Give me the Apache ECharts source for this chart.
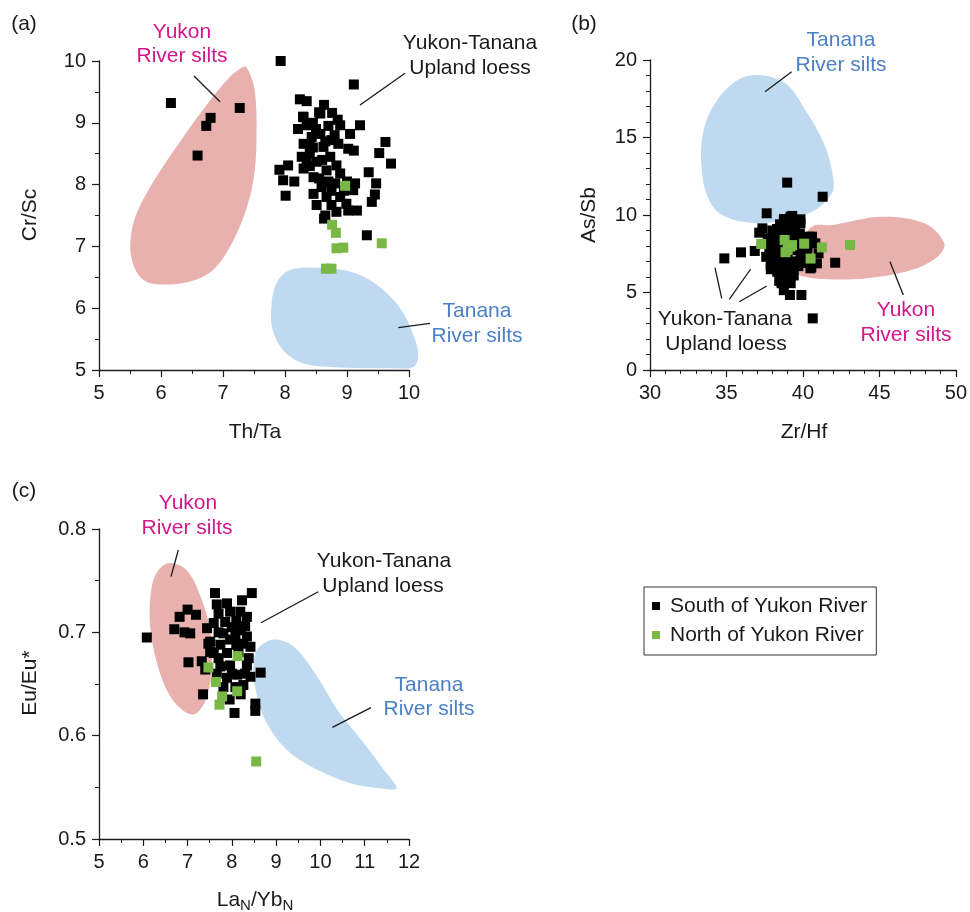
<!DOCTYPE html>
<html>
<head>
<meta charset="utf-8">
<script src="https://cdn.jsdelivr.net/npm/echarts@6/dist/echarts.min.js"></script>
<style>
  html, body { margin: 0; padding: 0; background: #fff; }
  #chart { width: 970px; height: 912px; }
</style>
</head>
<body>
<div id="chart"></div>
<script>
// ---- Panel (a): Th/Ta vs Cr/Sc ----
const southA = [
  [6.16,9.32],[7.27,9.24],[6.80,9.08],[6.73,8.95],[6.59,8.47],[7.93,10.0],[9.11,9.62],
  [8.24,9.38],[8.35,9.35],[8.63,9.29],[8.55,9.17],[8.76,9.16],[8.29,9.10],[8.57,9.15],[8.30,9.09],
  [9.21,8.96],[8.35,8.96],[8.21,8.90],[8.89,8.96],[8.70,8.95],[8.45,9.00],[8.85,9.05],[8.50,8.90],
  [9.05,8.82],[8.57,8.82],[8.43,8.77],[8.75,8.72],[8.80,8.80],[8.86,8.66],[8.30,8.66],[8.62,8.61],[8.40,8.65],[8.65,8.70],
  [9.62,8.69],[9.02,8.58],[9.11,8.55],[9.52,8.51],[9.71,8.34],
  [8.40,8.50],[8.27,8.45],[8.73,8.45],[8.45,8.60],[8.51,8.37],[8.83,8.31],[8.35,8.40],[8.60,8.40],
  [7.91,8.24],[8.05,8.31],[7.97,8.07],[8.15,8.05],[8.01,7.82],
  [8.30,8.26],[8.67,8.23],[8.89,8.18],[8.40,8.30],[8.46,8.12],[8.55,8.10],[8.70,8.05],
  [9.35,8.20],[9.47,8.02],[9.45,7.84],[9.40,7.72],[9.16,7.58],[9.32,7.18],
  [8.59,7.96],[8.81,8.02],[9.00,8.05],[9.13,8.02],[8.46,7.85],[8.67,7.80],[8.89,7.80],[9.10,7.91],[8.95,7.90],[8.75,7.90],
  [8.51,7.67],[8.75,7.67],[8.99,7.69],[8.65,7.50],[8.63,7.45],[8.83,7.56],[9.02,7.58]
];
const northA = [[8.97,7.98],[8.76,7.35],[8.82,7.22],[8.83,6.97],[8.94,6.98],[9.56,7.05],[8.66,6.64],[8.75,6.64]];

const yukonSiltA_x = [7.38,7.51,7.54,7.49,7.35,7.11,6.84,6.46,5.90,5.66,5.52,5.52,5.63,5.93,6.36,6.79,7.11,7.30];
const yukonSiltA_y = [9.90,9.53,8.72,8.07,7.53,6.99,6.62,6.43,6.39,6.51,6.83,7.21,7.59,8.13,8.77,9.36,9.74,9.89];
const tananaSiltA_x = [8.08,8.62,9.15,9.59,9.91,10.10,10.15,10.07,9.69,8.89,8.29,7.97,7.80,7.78,7.86];
const tananaSiltA_y = [6.62,6.65,6.56,6.29,5.92,5.48,5.22,5.05,5.03,5.04,5.11,5.32,5.65,6.02,6.40];

// ---- Panel (b): Zr/Hf vs As/Sb ----
const southB = [
  [38.97,12.09],[41.29,11.18],[37.63,10.11],[37.35,9.14],[37.14,8.86],[34.86,7.20],[35.95,7.59],[36.85,7.68],
  [38.76,9.74],[39.30,9.94],[39.84,9.72],[38.75,9.68],[39.62,9.68],[39.84,9.46],[39.19,9.89],
  [38.22,8.82],[37.89,8.17],[37.89,7.42],[37.89,6.77],[38.64,8.60],[39.29,8.39],[39.94,8.28],
  [39.62,7.74],[40.27,7.53],[39.84,7.10],[38.43,6.88],[39.08,6.88],[38.32,6.34],[38.45,5.75],[38.75,5.15],[39.15,4.84],[39.90,4.84],
  [40.49,6.56],[40.91,6.88],[41.02,7.53],[40.59,8.60],[40.81,8.17],[42.11,6.92],[40.55,6.62],[40.64,3.33],
  [38.2,7.8],[38.5,7.2],[38.7,7.0],[39.0,7.4],[39.3,6.5],[38.9,6.2],[38.1,7.6],[38.4,8.1],[38.8,8.9],[39.5,9.2],
  [39.8,8.8],[40.2,8.2],[39.5,7.0],[40.0,7.2],[38.0,8.4],[38.6,6.6],[39.2,5.6],[38.6,5.6],[40.3,7.9],[38.3,9.1],[39.0,9.3],
  [37.7,8.5],[37.8,7.9],[38.0,7.2],[38.2,6.9],[38.4,7.5],[38.6,7.9],[38.9,8.6],[39.2,9.0],[39.6,8.5],[39.9,8.0],
  [40.2,7.6],[39.7,6.7],[39.4,6.1],[38.8,5.9],[38.3,8.6],[37.6,7.3],[40.4,8.6],[39.5,9.6],[38.5,9.4],[38.0,9.0],
  [37.9,6.5],[40.1,6.9],[38.9,6.7]
];
const northB = [[37.27,8.13],[38.80,8.39],[39.19,7.96],[38.86,7.60],[39.29,8.06],[40.08,8.15],[40.50,7.19],[41.24,7.91],[43.08,8.06],[39.00,7.75]];

const tananaSiltB_x = [36.92,38.86,40.16,41.46,42.00,41.89,40.81,38.86,36.49,34.54,33.68,33.35,33.46,34.11,35.41];
const tananaSiltB_y = [19.03,18.49,16.77,14.41,12.26,11.40,10.32,9.68,9.51,10.11,11.40,13.33,15.27,16.99,18.49];
const yukonSiltB_x = [39.19,40.59,41.89,45.14,47.95,49.24,48.81,47.08,44.05,40.81,39.51,39.08,39.73];
const yukonSiltB_y = [7.53,9.25,9.35,9.89,9.46,8.17,7.31,6.45,5.91,5.91,6.24,6.88,8.82];

// ---- Panel (c): LaN/YbN vs Eu/Eu* ----
const southC = [
  [6.08,0.695],[6.70,0.703],[6.93,0.700],[7.06,0.699],[6.82,0.715],[7.00,0.722],[7.19,0.717],[7.02,0.671],[7.35,0.640],
  [8.06,0.622],[8.53,0.631],[8.53,0.624],[8.65,0.661],
  [7.62,0.738],[8.45,0.738],[8.23,0.731],[7.66,0.727],[7.89,0.728],[7.70,0.718],[7.96,0.720],[8.19,0.720],[8.34,0.715],
  [7.81,0.699],[8.08,0.697],[8.34,0.696],[7.51,0.691],[7.74,0.688],[7.96,0.693],[8.26,0.689],[8.42,0.686],
  [7.59,0.680],[7.89,0.680],[8.15,0.681],[8.38,0.675],[7.32,0.672],[7.74,0.667],[7.96,0.668],[8.34,0.668],
  [7.66,0.660],[7.89,0.656],[8.12,0.659],[8.42,0.657],[7.81,0.647],[8.08,0.647],[8.26,0.649],
  [7.44,0.704],[7.47,0.689],[7.51,0.681],[7.40,0.664],[7.59,0.709],
  [8.00,0.705],[8.20,0.702],[7.70,0.700],[8.30,0.706],[8.10,0.711],[7.85,0.710],[8.00,0.660],[8.20,0.640],
  [7.95,0.635],[8.30,0.660],[7.70,0.675],[8.10,0.688]
];
const northC = [[8.13,0.677],[7.47,0.666],[7.64,0.652],[7.78,0.638],[7.72,0.630],[8.12,0.643],[8.55,0.575]];

const yukonSiltC_x = [6.61,6.98,7.29,7.51,7.55,7.44,7.21,6.98,6.61,6.31,6.15,6.19,6.34];
const yukonSiltC_y = [0.767,0.760,0.735,0.702,0.670,0.638,0.622,0.622,0.638,0.670,0.709,0.744,0.760];
const tananaSiltC_x = [8.94,9.40,9.93,10.38,10.98,11.43,11.72,11.36,10.68,9.93,9.25,8.79,8.57,8.49,8.57];
const tananaSiltC_y = [0.693,0.686,0.657,0.625,0.593,0.567,0.549,0.549,0.554,0.567,0.586,0.612,0.638,0.664,0.683];

const SOUTH = 'South of Yukon River';
const NORTH = 'North of Yukon River';
const FONT = '"Liberation Sans", Arial, Helvetica, sans-serif';
const INK = '#1a1a1a';
const PINK_FILL = '#e8b1ad';
const BLUE_FILL = '#bfd9f0';
const PINK_TEXT = '#d4168c';
const BLUE_TEXT = '#4b80c6';
const GREEN = '#79b844';

function blobSeries(axisIndex, blobs) {
  return {
    type: 'custom',
    xAxisIndex: axisIndex,
    yAxisIndex: axisIndex,
    silent: true,
    z: 1,
    data: blobs.map(b => [b.xs[0], b.ys[0]]),
    renderItem: function (params, api) {
      const b = blobs[params.dataIndex];
      const pts = b.xs.map((x, i) => api.coord([x, b.ys[i]]));
      return {
        type: 'polygon',
        shape: { points: pts, smooth: 0.35 },
        style: { fill: b.color }
      };
    }
  };
}

function scatter(axisIndex, name, data, color) {
  return {
    type: 'scatter', name: name, xAxisIndex: axisIndex, yAxisIndex: axisIndex,
    symbol: 'rect', symbolSize: 10, data: data, z: 3,
    itemStyle: { color: color, opacity: 1 }
  };
}

function axisBase(min, max, interval, minorSplit, fmt) {
  return {
    type: 'value', min: min, max: max, interval: interval,
    splitLine: { show: false },
    axisLine: { show: true, lineStyle: { color: INK, width: 1.3 } },
    axisTick: { show: true, length: 7, lineStyle: { color: INK, width: 1.2 } },
    minorTick: { show: true, splitNumber: minorSplit, length: 4, lineStyle: { color: INK, width: 1 } },
    minorSplitLine: { show: false },
    axisLabel: { color: INK, fontSize: 20, fontFamily: FONT, margin: 13, formatter: fmt }
  };
}

const grids = [
  { left: 99, top: 61, width: 310, height: 309 },
  { left: 650, top: 60, width: 308, height: 310 },
  { left: 99, top: 529, width: 310, height: 310 }
];

const xAxes = [
  Object.assign(axisBase(5, 10, 1, 2), { gridIndex: 0 }),
  Object.assign(axisBase(30, 50, 5, 5), { gridIndex: 1 }),
  Object.assign(axisBase(5, 12, 1, 2), { gridIndex: 2 })
];
const yAxes = [
  Object.assign(axisBase(5, 10, 1, 2), { gridIndex: 0 }),
  Object.assign(axisBase(0, 20, 5, 5), { gridIndex: 1 }),
  Object.assign(axisBase(0.5, 0.8, 0.1, 2, v => v.toFixed(1)), { gridIndex: 2 })
];

function label(x, y, text, color, size) {
  return {
    type: 'text', x: x, y: y, silent: true, z: 10,
    style: { text: text, fill: color || INK, font: (size || 21) + 'px ' + FONT, textAlign: 'center', textVerticalAlign: 'middle' }
  };
}
function leader(x1, y1, x2, y2) {
  return { type: 'line', silent: true, z: 10, shape: { x1: x1, y1: y1, x2: x2, y2: y2 }, style: { stroke: INK, lineWidth: 1.3 } };
}
function vlabel(x, y, text) {
  return {
    type: 'text', x: x, y: y, rotation: Math.PI / 2, silent: true, z: 10,
    style: { text: text, fill: INK, font: '21px ' + FONT, textAlign: 'center', textVerticalAlign: 'middle' }
  };
}

const graphics = [
  // panel tags
  label(24, 24, '(a)'), label(584, 24, '(b)'), label(24, 491, '(c)'),
  // axis titles
  label(255, 432, 'Th/Ta'), vlabel(30, 215, 'Cr/Sc'),
  label(804, 432, 'Zr/Hf'), vlabel(589, 215, 'As/Sb'),
  vlabel(30, 683, 'Eu/Eu*'),
  {
    type: 'text', x: 255, y: 900, silent: true, z: 10,
    style: {
      text: 'La{n|N}/Yb{n|N}', fill: INK, font: '21px ' + FONT,
      textAlign: 'center', textVerticalAlign: 'middle',
      rich: { n: { fontSize: 15, fontFamily: FONT, fill: INK, padding: [12, 0, 0, 0] } }
    }
  },
  // panel (a) annotations
  label(182, 32, 'Yukon', PINK_TEXT), label(182, 56, 'River silts', PINK_TEXT),
  leader(194, 76, 220, 101.7),
  label(470, 43, 'Yukon-Tanana'), label(470, 68, 'Upland loess'),
  leader(405, 73.3, 360, 105),
  label(477, 311, 'Tanana', BLUE_TEXT), label(477, 336, 'River silts', BLUE_TEXT),
  leader(430, 323.3, 398.3, 327.7),
  // panel (b) annotations
  label(841, 40, 'Tanana', BLUE_TEXT), label(841, 65, 'River silts', BLUE_TEXT),
  leader(791.7, 71.7, 765, 91.7),
  label(906, 310, 'Yukon', PINK_TEXT), label(906, 335, 'River silts', PINK_TEXT),
  leader(890, 261.7, 903.3, 295),
  label(725, 319, 'Yukon-Tanana'), label(726, 344, 'Upland loess'),
  leader(715, 267.7, 721.7, 298.3), leader(750.7, 269, 729.3, 299.3), leader(766.7, 286, 739.3, 301.7),
  // panel (c) annotations
  label(188, 503, 'Yukon', PINK_TEXT), label(187, 528, 'River silts', PINK_TEXT),
  leader(178.3, 550, 171, 576.7),
  label(384, 561, 'Yukon-Tanana'), label(383, 586, 'Upland loess'),
  leader(318.3, 591.7, 261, 622.7),
  label(429, 685, 'Tanana', BLUE_TEXT), label(429, 709, 'River silts', BLUE_TEXT),
  leader(371, 707.7, 332.3, 727.3)
];

const option = {
  animation: false,
  backgroundColor: '#ffffff',
  textStyle: { fontFamily: FONT },
  grid: grids,
  xAxis: xAxes,
  yAxis: yAxes,
  legend: {
    orient: 'vertical', left: 644, top: 587,
    data: [SOUTH, NORTH],
    icon: 'rect', itemWidth: 8, itemHeight: 8, itemGap: 5,
    borderColor: '#333', borderWidth: 1, borderRadius: 0,
    padding: [7, 9, 8, 8],
    selectedMode: false,
    textStyle: { fontSize: 21, color: INK, fontFamily: FONT, lineHeight: 24, padding: [0, 0, 0, 5] }
  },
  series: [
    blobSeries(0, [
      { xs: yukonSiltA_x, ys: yukonSiltA_y, color: PINK_FILL },
      { xs: tananaSiltA_x, ys: tananaSiltA_y, color: BLUE_FILL }
    ]),
    scatter(0, SOUTH, southA, '#000'),
    scatter(0, NORTH, northA, GREEN),
    blobSeries(1, [
      { xs: tananaSiltB_x, ys: tananaSiltB_y, color: BLUE_FILL },
      { xs: yukonSiltB_x, ys: yukonSiltB_y, color: PINK_FILL }
    ]),
    scatter(1, SOUTH, southB, '#000'),
    scatter(1, NORTH, northB, GREEN),
    blobSeries(2, [
      { xs: yukonSiltC_x, ys: yukonSiltC_y, color: PINK_FILL },
      { xs: tananaSiltC_x, ys: tananaSiltC_y, color: BLUE_FILL }
    ]),
    scatter(2, SOUTH, southC, '#000'),
    scatter(2, NORTH, northC, GREEN)
  ],
  graphic: graphics
};

const chart = echarts.init(document.getElementById('chart'), null, { renderer: 'canvas' });
chart.setOption(option);
</script>
</body>
</html>
